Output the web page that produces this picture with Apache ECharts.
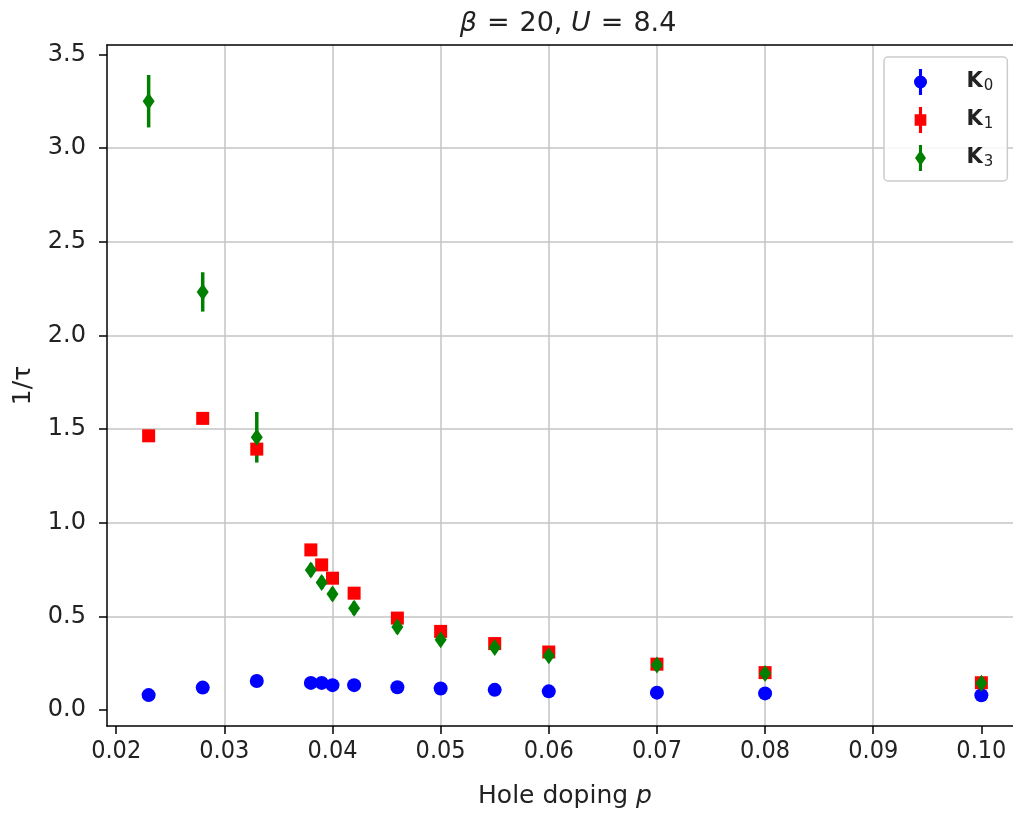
<!DOCTYPE html>
<html>
<head>
<meta charset="utf-8">
<script src="https://cdn.jsdelivr.net/npm/echarts@6/dist/echarts.min.js"></script>
<style>
html,body{margin:0;padding:0;background:#fff;overflow:hidden;}
#chart{width:1013px;height:813px;}
</style>
</head>
<body>
<div id="chart"></div>
<script>
// ---- data ----
const dopingP = [0.023, 0.028, 0.033, 0.038, 0.039, 0.040, 0.042, 0.046, 0.050, 0.055, 0.060, 0.070, 0.080, 0.100];
const k0Vals = [0.080, 0.120, 0.155, 0.145, 0.145, 0.133, 0.133, 0.122, 0.115, 0.108, 0.100, 0.093, 0.089, 0.079];
const k0Errs = [0.010, 0.010, 0.012, 0.010, 0.010, 0.010, 0.010, 0.010, 0.010, 0.010, 0.010, 0.010, 0.010, 0.010];
const k1Vals = [1.464, 1.557, 1.393, 0.855, 0.775, 0.704, 0.624, 0.491, 0.420, 0.355, 0.310, 0.245, 0.200, 0.146];
const k1Errs = [0.020, 0.020, 0.030, 0.015, 0.015, 0.015, 0.015, 0.015, 0.015, 0.015, 0.015, 0.015, 0.015, 0.015];
const k3Vals = [3.250, 2.232, 1.456, 0.748, 0.681, 0.620, 0.544, 0.443, 0.376, 0.334, 0.290, 0.240, 0.195, 0.143];
const k3Errs = [0.140, 0.105, 0.135, 0.035, 0.035, 0.035, 0.035, 0.035, 0.030, 0.030, 0.030, 0.025, 0.025, 0.025];
const xTicks = [0.02, 0.03, 0.04, 0.05, 0.06, 0.07, 0.08, 0.09, 0.10];
const yTicks = [0.0, 0.5, 1.0, 1.5, 2.0, 2.5, 3.0, 3.5];
const seriesNames = ['K0', 'K1', 'K3'];
const subscripts = ['0', '1', '3'];
const seriesColors = ['#0000ff', '#ff0000', '#008000'];

// ---- build ----
function pts(vals){ return dopingP.map((x,i)=>[x, vals[i]]); }
function errs(vals, e){ return dopingP.map((x,i)=>[x, vals[i]-e[i], vals[i]+e[i]]); }
function errRender(color){
  return function(params, api){
    const x = api.value(0), lo = api.value(1), hi = api.value(2);
    const p1 = api.coord([x, lo]), p2 = api.coord([x, hi]);
    return {type:'line', shape:{x1:p1[0], y1:p1[1], x2:p2[0], y2:p2[1]},
            style:{stroke:color, lineWidth:3.5}};
  };
}
const diamond = 'path://M0,-1L0.68,0L0,1L-0.68,0Z';
const markerSyms = ['circle', 'rect', diamond];
const markerSizes = [14, 13, [12, 17]];
const legendIcons = [
  'path://M-0.12,-1L0.12,-1L0.12,1L-0.12,1Z M-0.5,0A0.5,0.5 0 1 1 0.5,0A0.5,0.5 0 1 1 -0.5,0Z',
  'path://M-0.12,-1L0.12,-1L0.12,1L-0.12,1Z M-0.45,-0.45L0.45,-0.45L0.45,0.45L-0.45,0.45Z',
  'path://M-0.12,-1L0.12,-1L0.12,1L-0.12,1Z M0,-0.62L0.42,0L0,0.62L-0.42,0Z'
];
const allVals = [k0Vals, k1Vals, k3Vals];
const allErrs = [k0Errs, k1Errs, k3Errs];

const series = [];
seriesNames.forEach((nm, i) => {
  series.push({
    name: nm + '_err', type: 'custom', renderItem: errRender(seriesColors[i]),
    data: errs(allVals[i], allErrs[i]), encode: {x: 0, y: [1, 2]}, silent: true
  });
  series.push({
    name: nm, type: 'scatter', data: pts(allVals[i]),
    symbol: markerSyms[i], symbolSize: markerSizes[i],
    itemStyle: {color: seriesColors[i], opacity: 1}
  });
});

const chart = echarts.init(document.getElementById('chart'), null, {renderer: 'canvas'});
const font = 'DejaVu Sans';
const narrow = '"Liberation Sans Narrow", "DejaVu Sans Condensed", "DejaVu Sans"';
const gridLine = {show: true, showMinLine: false, showMaxLine: false, lineStyle: {color: '#c4c4c4', width: 1.5}};
chart.setOption({
  animation: false,
  backgroundColor: '#ffffff',
  title: {
    text: '{i|β}{e|=}20, {i|U}{e|=}8.4',
    left: 563, top: 5, textAlign: 'center',
    textStyle: {
      fontFamily: font, fontSize: 27, color: '#222', fontWeight: 'normal',
      rich: {
        i: {fontFamily: font, fontSize: 27, fontStyle: 'italic', color: '#222'},
        e: {fontFamily: font, fontSize: 27, color: '#222', padding: [0, 10, 0, 10]}
      }
    }
  },
  legend: {
    orient: 'vertical', left: 884, top: 57,
    padding: [12, 14, 10, 30], itemGap: 12, itemWidth: 20, itemHeight: 26,
    backgroundColor: 'rgba(255,255,255,0.85)', borderColor: '#cccccc', borderWidth: 1.5, borderRadius: 4,
    data: seriesNames.map((nm, i) => ({name: nm, icon: legendIcons[i], itemStyle: {color: seriesColors[i]}})),
    formatter: function(name){ const i = seriesNames.indexOf(name); return '{b|K}{s|' + subscripts[i] + '}'; },
    textStyle: {
      fontFamily: font, color: '#222',
      rich: {
        b: {fontFamily: font, fontSize: 21, fontWeight: 'bold', color: '#222', padding: [0, 0, 0, 31]},
        s: {fontFamily: font, fontSize: 15, color: '#222', padding: [9, 0, 0, 1]}
      }
    },
    selectedMode: false
  },
  grid: {left: 107, top: 45, width: 916, height: 681, show: false,
         containLabel: false, outerBoundsMode: 'none'},
  xAxis: [{
    type: 'value', min: 0.01915, max: 0.10385,
    name: '{n|Hole doping }{i|p}', nameLocation: 'middle', nameGap: 58,
    nameTextStyle: {
      rich: {
        n: {fontFamily: font, fontSize: 25, color: '#222'},
        i: {fontFamily: font, fontSize: 25, fontStyle: 'italic', color: '#222'}
      }
    },
    axisLine: {show: true, onZero: false, lineStyle: {color: '#000', width: 1.5}},
    axisTick: {show: true, inside: false, length: 8, lineStyle: {color: '#000', width: 1.5}, customValues: xTicks},
    axisLabel: {margin: 13, fontFamily: narrow, fontSize: 25, color: '#222', customValues: xTicks,
                formatter: v => v.toFixed(2)},
    splitLine: gridLine
  }, {
    type: 'value', position: 'top', min: 0.01915, max: 0.10385,
    axisLine: {show: true, onZero: false, lineStyle: {color: '#000', width: 1.5}},
    axisTick: {show: false}, axisLabel: {show: false}, splitLine: {show: false}
  }],
  yAxis: {
    type: 'value', min: -0.085, max: 3.55,
    name: '1/τ', nameLocation: 'middle', nameGap: 71, nameRotate: 90,
    nameTextStyle: {fontFamily: font, fontSize: 25, color: '#222'},
    axisLine: {show: true, onZero: false, lineStyle: {color: '#000', width: 1.5}},
    axisTick: {show: true, inside: false, length: 8, lineStyle: {color: '#000', width: 1.5}, customValues: yTicks},
    axisLabel: {margin: 21, fontFamily: font, fontSize: 24, color: '#222', customValues: yTicks,
                formatter: v => v.toFixed(1)},
    splitLine: gridLine
  },
  series: series
});
</script>
</body>
</html>
